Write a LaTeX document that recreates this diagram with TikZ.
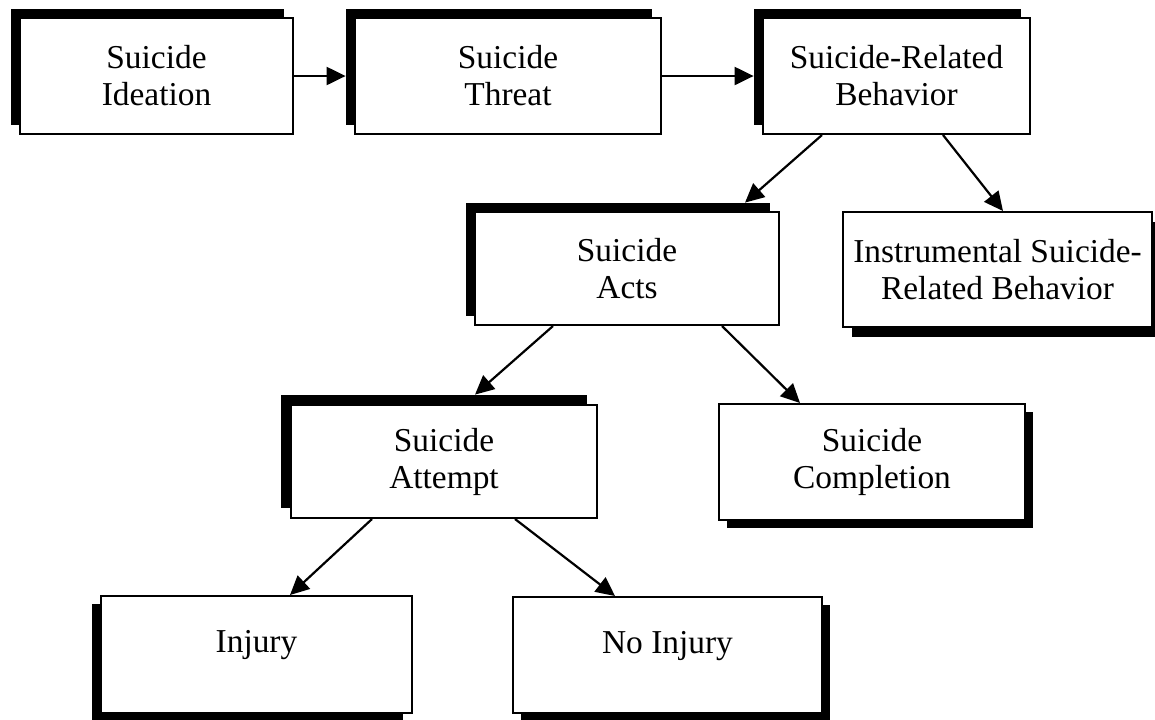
\documentclass[tikz,border=0pt]{standalone}
\usepackage{fontspec}
\setmainfont{Liberation Serif}
\usetikzlibrary{arrows.meta,calc}
\begin{document}
\begin{tikzpicture}[x=0.5pt,y=-0.5pt,
  boxnode/.style={draw=black, line width=1pt, fill=white, inner sep=0pt, align=center,
    font=\fontsize{16.7pt}{18.5pt}\selectfont},
  shadnode/.style={fill=black, draw=none, inner sep=0pt},
  conn/.style={line width=1.1pt, -{Triangle[length=9.5pt,width=9pt]}}]
\useasboundingbox (0,0) rectangle (1155,719);
% shadows
\node[shadnode, minimum width=136.5pt, minimum height=58pt] (b1s) at (147.5,67) {};
\node[shadnode, minimum width=153pt, minimum height=58pt] (b2s) at (499,67) {};
\node[shadnode, minimum width=133.5pt, minimum height=58pt] (b3s) at (887.5,67) {};
\node[shadnode, minimum width=152pt, minimum height=56.5pt] (b4s) at (618,259.5) {};
\node[shadnode, minimum width=154.5pt, minimum height=57.5pt] (b5s) at (1006.5,279) {};
\node[shadnode, minimum width=153pt, minimum height=56.5pt] (b6s) at (434,451.5) {};
\node[shadnode, minimum width=153pt, minimum height=58pt] (b7s) at (880,470) {};
\node[shadnode, minimum width=155.5pt, minimum height=58.5pt] (b8s) at (247.5,662.5) {};
\node[shadnode, minimum width=154.5pt, minimum height=58pt] (b9s) at (675.5,663) {};
% boxes
\node[boxnode, minimum width=136.5pt, minimum height=58pt] (b1) at (156.5,76) {Suicide\\Ideation};
\node[boxnode, minimum width=153pt, minimum height=58pt] (b2) at (508,76) {Suicide\\Threat};
\node[boxnode, minimum width=133.5pt, minimum height=58pt] (b3) at (896.5,76) {Suicide-Related\\Behavior};
\node[boxnode, minimum width=152pt, minimum height=56.5pt] (b4) at (627,268.5) {Suicide\\Acts};
\node[boxnode, minimum width=154.5pt, minimum height=57.5pt] (b5) at (997.5,269.5) {Instrumental Suicide-\\Related Behavior};
\node[boxnode, minimum width=153pt, minimum height=56.5pt] (b6) at (444,461.5) {Suicide\\Attempt};
\node[boxnode, minimum width=153pt, minimum height=58pt] (b7) at (872,462) {Suicide\\Completion};
\node[boxnode, minimum width=155.5pt, minimum height=58.5pt] (b8) at (256.5,654.5) {\raisebox{4.5pt}[\height][\depth]{Injury}};
\node[boxnode, minimum width=154.5pt, minimum height=58pt] (b9) at (667.5,655) {\raisebox{4.5pt}[\height][\depth]{No Injury}};
% connectors
\draw[conn] (b1.east) -- (b1.east -| b2s.west);
\draw[conn] (b2.east) -- (b2.east -| b3s.west);
\draw[conn] ($(b3.south)+(-74.5,0)$) -- ($(b4s.north)+(127,0)$);
\draw[conn] ($(b3.south)+(46.5,0)$) -- ($(b5.north)+(5.5,0)$);
\draw[conn] ($(b4.south)+(-74,0)$) -- ($(b6s.north)+(41,0)$);
\draw[conn] ($(b4.south)+(95,0)$) -- ($(b7.north)+(-72,0)$);
\draw[conn] ($(b6.south)+(-72,0)$) -- ($(b8.north)+(33.5,0)$);
\draw[conn] ($(b6.south)+(71,0)$) -- ($(b9.north)+(-52.5,0)$);
\end{tikzpicture}
\end{document}
